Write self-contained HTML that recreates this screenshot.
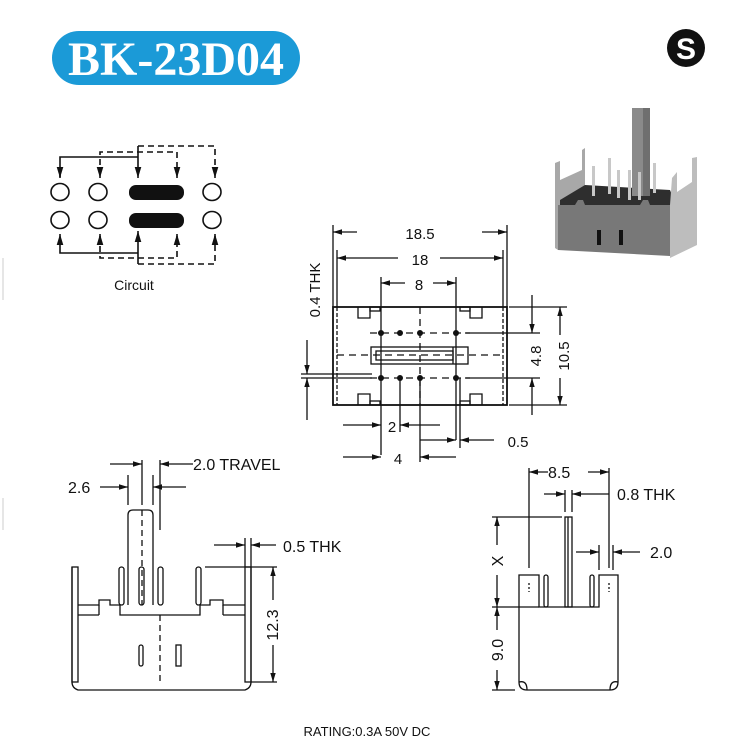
<!DOCTYPE html>
<html><head><meta charset="utf-8"><style>
html,body{margin:0;padding:0;background:#fff;}
svg{display:block;}
text{font-family:"Liberation Sans",Arial,sans-serif;fill:#111;}
</style></head><body>
<svg width="735" height="744" viewBox="0 0 735 744" xmlns="http://www.w3.org/2000/svg">
<defs>
<marker id="a" viewBox="0 0 10 10" refX="10" refY="5" markerWidth="7" markerHeight="7" orient="auto-start-reverse"><path d="M0,2 L10,5 L0,8 z" fill="#111"/></marker>
</defs>
<!-- title -->
<rect x="52" y="31" width="248" height="54" rx="27" fill="#1b9ad7"/>
<text x="176" y="75" text-anchor="middle" style="font-family:'Liberation Serif',serif;font-weight:bold;font-size:48px;fill:#fff">BK-23D04</text>
<!-- S logo -->
<circle cx="686" cy="48" r="19" fill="#111"/>
<text x="686" y="59" text-anchor="middle" style="font-weight:bold;font-size:30px;fill:#fff">S</text>
<line x1="3" y1="258" x2="3" y2="300" stroke="#ccc"/>
<line x1="3" y1="498" x2="3" y2="530" stroke="#ccc"/>

<!-- circuit -->
<g stroke="#111" stroke-width="1.6" fill="none">
<ellipse cx="60" cy="192" rx="9" ry="8.5"/><ellipse cx="98" cy="192" rx="9" ry="8.5"/><ellipse cx="212" cy="192" rx="9" ry="8.5"/>
<ellipse cx="60" cy="220" rx="9" ry="8.5"/><ellipse cx="98" cy="220" rx="9" ry="8.5"/><ellipse cx="212" cy="220" rx="9" ry="8.5"/>
<polyline points="60,177 60,157 138,157"/>
<line x1="60" y1="173" x2="60" y2="178" marker-end="url(#a)"/>
<line x1="138" y1="146" x2="138" y2="178" marker-end="url(#a)"/>
<polyline points="60,237 60,253 138,253"/>
<line x1="60" y1="240" x2="60" y2="234" marker-end="url(#a)"/>
<line x1="138" y1="264" x2="138" y2="231" marker-end="url(#a)"/>
<g stroke-dasharray="6,4">
<polyline points="100,175 100,152 177,152 177,175"/>
<polyline points="138,146 215,146 215,175"/>
<polyline points="100,236 100,258 177,258 177,236"/>
<polyline points="138,264 215,264 215,236"/>
</g>
<line x1="100" y1="172" x2="100" y2="178" marker-end="url(#a)"/>
<line x1="177" y1="172" x2="177" y2="178" marker-end="url(#a)"/>
<line x1="215" y1="172" x2="215" y2="178" marker-end="url(#a)"/>
<line x1="100" y1="240" x2="100" y2="234" marker-end="url(#a)"/>
<line x1="177" y1="240" x2="177" y2="234" marker-end="url(#a)"/>
<line x1="215" y1="240" x2="215" y2="234" marker-end="url(#a)"/>
</g>
<rect x="129" y="185" width="55" height="15" rx="7" fill="#111"/>
<rect x="129" y="213" width="55" height="15" rx="7" fill="#111"/>
<text x="134" y="290" text-anchor="middle" font-size="14">Circuit</text>

<!-- photo -->
<g>
<polygon points="555,163 560,161 560,180 582,170 582,150 585,148 585,205 558,250 555,248" fill="#a8a8a8"/>
<polygon points="560,200 585,185 670,190 676,205 560,205" fill="#2e2e2e"/>
<rect x="632" y="108" width="18" height="88" fill="#8a8a8a"/>
<rect x="643" y="108" width="7" height="88" fill="#6f6f6f"/>
<rect x="592" y="166" width="3" height="30" fill="#c8c8c8"/><rect x="608" y="158" width="3" height="36" fill="#c8c8c8"/>
<rect x="617" y="170" width="3" height="28" fill="#c8c8c8"/><rect x="628" y="170" width="3" height="30" fill="#c8c8c8"/>
<rect x="638" y="172" width="3" height="28" fill="#c8c8c8"/><rect x="653" y="163" width="3" height="30" fill="#c8c8c8"/>
<polygon points="558,205 575,205 578,200 583,200 585,205 640,205 643,200 648,200 650,205 670,205 670,256 558,250" fill="#787878"/>
<polygon points="670,205 672,178 677,172 677,192 692,182 692,158 697,157 697,245 670,258" fill="#bdbdbd"/>
<rect x="597" y="230" width="4" height="15" fill="#111"/><rect x="619" y="230" width="4" height="15" fill="#111"/>
</g>

<!-- top view -->
<g stroke="#111" stroke-width="1.3" fill="none">
<rect x="333" y="307" width="174" height="98" stroke-width="1.8"/>
<line x1="337" y1="307" x2="337" y2="405" stroke-dasharray="4,2"/>
<line x1="503" y1="307" x2="503" y2="405" stroke-dasharray="4,2"/>
<line x1="333" y1="225" x2="333" y2="307"/><line x1="507" y1="225" x2="507" y2="307"/>
<line x1="337" y1="250" x2="337" y2="307"/><line x1="503" y1="250" x2="503" y2="307"/>
<line x1="381" y1="277" x2="381" y2="455"/><line x1="456" y1="277" x2="456" y2="440"/>
<line x1="357" y1="232" x2="333" y2="232" marker-end="url(#a)"/><line x1="482" y1="232" x2="507" y2="232" marker-end="url(#a)"/>
<line x1="398" y1="258" x2="337" y2="258" marker-end="url(#a)"/><line x1="440" y1="258" x2="503" y2="258" marker-end="url(#a)"/>
<line x1="405" y1="283" x2="381" y2="283" marker-end="url(#a)"/><line x1="433" y1="283" x2="456" y2="283" marker-end="url(#a)"/>
<g stroke-dasharray="7,5">
<line x1="337" y1="355" x2="503" y2="355"/>
<line x1="420" y1="307" x2="420" y2="405"/>
<line x1="370" y1="333" x2="470" y2="333"/>
<line x1="370" y1="378" x2="470" y2="378"/>
</g>
<rect x="371" y="347" width="97" height="17"/>
<rect x="376" y="351" width="77" height="9"/>
<line x1="453" y1="347" x2="453" y2="364"/>
<polyline points="358,307 358,318 370,318 370,307"/><rect x="370" y="307" width="10" height="4"/>
<polyline points="470,307 470,318 482,318 482,307"/><rect x="460" y="307" width="10" height="4"/>
<polyline points="358,405 358,394 370,394 370,405"/><rect x="370" y="401" width="10" height="4"/>
<polyline points="470,405 470,394 482,394 482,405"/><rect x="460" y="401" width="10" height="4"/>
<line x1="509" y1="307" x2="567" y2="307"/><line x1="509" y1="405" x2="567" y2="405"/>
<line x1="465" y1="333" x2="540" y2="333"/><line x1="465" y1="378" x2="540" y2="378"/>
<line x1="532" y1="295" x2="532" y2="333" marker-end="url(#a)"/><line x1="532" y1="415" x2="532" y2="378" marker-end="url(#a)"/>
<line x1="560" y1="335" x2="560" y2="307" marker-end="url(#a)"/><line x1="560" y1="378" x2="560" y2="405" marker-end="url(#a)"/>
<line x1="307" y1="340" x2="307" y2="374" marker-end="url(#a)"/><line x1="307" y1="420" x2="307" y2="378" marker-end="url(#a)"/>
<line x1="301" y1="374" x2="372" y2="374"/><line x1="301" y1="378" x2="372" y2="378"/>
<line x1="400" y1="378" x2="400" y2="432"/><line x1="420" y1="378" x2="420" y2="462"/><line x1="460" y1="378" x2="460" y2="448"/>
<line x1="343" y1="425" x2="381" y2="425" marker-end="url(#a)"/><line x1="440" y1="425" x2="400" y2="425" marker-end="url(#a)"/>
<line x1="420" y1="440" x2="456" y2="440" marker-end="url(#a)"/><line x1="494" y1="440" x2="460" y2="440" marker-end="url(#a)"/>
<line x1="343" y1="457" x2="381" y2="457" marker-end="url(#a)"/><line x1="456" y1="457" x2="420" y2="457" marker-end="url(#a)"/>
</g>
<g fill="#111"><circle cx="381" cy="333" r="3"/><circle cx="400" cy="333" r="3"/><circle cx="420" cy="333" r="3"/><circle cx="456" cy="333" r="3"/>
<circle cx="381" cy="378" r="3"/><circle cx="400" cy="378" r="3"/><circle cx="420" cy="378" r="3"/><circle cx="456" cy="378" r="3"/></g>
<text x="420" y="239" text-anchor="middle" font-size="15">18.5</text>
<text x="420" y="265" text-anchor="middle" font-size="15">18</text>
<text x="419" y="290" text-anchor="middle" font-size="15">8</text>
<text transform="translate(320,290) rotate(-90)" text-anchor="middle" font-size="15">0.4 THK</text>
<text transform="translate(541,356) rotate(-90)" text-anchor="middle" font-size="15">4.8</text>
<text transform="translate(569,356) rotate(-90)" text-anchor="middle" font-size="15">10.5</text>
<text x="392" y="432" text-anchor="middle" font-size="15">2</text>
<text x="518" y="447" text-anchor="middle" font-size="15">0.5</text>
<text x="398" y="464" text-anchor="middle" font-size="15">4</text>

<!-- side view -->
<g stroke="#111" stroke-width="1.3" fill="none">
<path d="M72,567 L72,682 Q72,688 78,690 L245,690 Q251,688 251,682 L251,567"/>
<rect x="72" y="567" width="6" height="115"/><rect x="245" y="567" width="6" height="115"/>
<polyline points="78,605 99,605 99,600 110,600 110,605 120,605 120,615 200,615 200,605 210,605 210,600 223,600 223,605 245,605"/>
<line x1="78" y1="615" x2="99" y2="615"/><line x1="99" y1="605" x2="99" y2="615"/>
<line x1="223" y1="605" x2="223" y2="615"/><line x1="223" y1="615" x2="245" y2="615"/>
<path d="M128,605 L128,515 Q128,510 133,510 L148,510 Q153,510 153,515 L153,605"/>
<line x1="142" y1="510" x2="142" y2="605" stroke-dasharray="6,4"/>
<line x1="160" y1="615" x2="160" y2="682" stroke-dasharray="6,4"/>
<rect x="119" y="567" width="5" height="38" rx="2.5"/><rect x="139" y="567" width="5" height="38" rx="2.5"/>
<rect x="158" y="567" width="5" height="38" rx="2.5"/><rect x="196" y="567" width="5" height="38" rx="2.5"/>
<rect x="139" y="645" width="4" height="21" rx="2"/><rect x="176" y="645" width="5" height="21"/>
<line x1="128" y1="475" x2="128" y2="505"/><line x1="142" y1="460" x2="142" y2="505"/>
<line x1="153" y1="475" x2="153" y2="505"/><line x1="160" y1="460" x2="160" y2="530"/>
<line x1="110" y1="464" x2="142" y2="464" marker-end="url(#a)"/><line x1="193" y1="464" x2="160" y2="464" marker-end="url(#a)"/>
<line x1="100" y1="487" x2="128" y2="487" marker-end="url(#a)"/><line x1="186" y1="487" x2="153" y2="487" marker-end="url(#a)"/>
<line x1="245" y1="538" x2="245" y2="567"/><line x1="251" y1="538" x2="251" y2="567"/>
<line x1="214" y1="545" x2="245" y2="545" marker-end="url(#a)"/><line x1="276" y1="545" x2="251" y2="545" marker-end="url(#a)"/>
<line x1="205" y1="567" x2="277" y2="567"/><line x1="251" y1="682" x2="277" y2="682"/>
<line x1="273" y1="600" x2="273" y2="567" marker-end="url(#a)"/><line x1="273" y1="645" x2="273" y2="682" marker-end="url(#a)"/>
</g>
<text x="193" y="470" font-size="16">2.0 TRAVEL</text>
<text x="68" y="493" font-size="16">2.6</text>
<text x="283" y="552" font-size="16">0.5 THK</text>
<text transform="translate(278,625) rotate(-90)" text-anchor="middle" font-size="16">12.3</text>

<!-- front view -->
<g stroke="#111" stroke-width="1.3" fill="none">
<path d="M519,575 L519,682 Q519,690 527,690 L610,690 Q618,690 618,682 L618,575 L599,575 L599,607 L539,607 L539,575 Z"/>
<path d="M519,682 Q527,680 527,690"/><path d="M618,682 Q610,680 610,690"/>
<rect x="565" y="517" width="7" height="90"/>
<line x1="568" y1="517" x2="568" y2="607"/>
<rect x="544" y="575" width="4" height="32" rx="2"/><rect x="590" y="575" width="4" height="32" rx="2"/>
<line x1="529" y1="468" x2="529" y2="568"/><line x1="609" y1="468" x2="609" y2="568"/>
<line x1="529" y1="583" x2="529" y2="592" stroke-dasharray="2,2"/><line x1="609" y1="583" x2="609" y2="592" stroke-dasharray="2,2"/>
<line x1="548" y1="472" x2="529" y2="472" marker-end="url(#a)"/><line x1="588" y1="472" x2="609" y2="472" marker-end="url(#a)"/>
<line x1="565" y1="490" x2="565" y2="512"/><line x1="572" y1="490" x2="572" y2="512"/>
<line x1="544" y1="494" x2="565" y2="494" marker-end="url(#a)"/><line x1="609" y1="494" x2="572" y2="494" marker-end="url(#a)"/>
<line x1="599" y1="545" x2="599" y2="570"/><line x1="613" y1="545" x2="613" y2="570"/>
<line x1="576" y1="552" x2="599" y2="552" marker-end="url(#a)"/><line x1="640" y1="552" x2="613" y2="552" marker-end="url(#a)"/>
<line x1="492" y1="517" x2="562" y2="517"/><line x1="492" y1="607" x2="539" y2="607"/><line x1="492" y1="690" x2="515" y2="690"/>
<line x1="497" y1="545" x2="497" y2="517" marker-end="url(#a)"/><line x1="497" y1="575" x2="497" y2="607" marker-end="url(#a)"/>
<line x1="497" y1="630" x2="497" y2="607" marker-end="url(#a)"/><line x1="497" y1="670" x2="497" y2="690" marker-end="url(#a)"/>
</g>
<text x="548" y="478" font-size="16">8.5</text>
<text x="617" y="500" font-size="16">0.8 THK</text>
<text x="650" y="558" font-size="16">2.0</text>
<text transform="translate(503,561) rotate(-90)" text-anchor="middle" font-size="16">X</text>
<text transform="translate(503,650) rotate(-90)" text-anchor="middle" font-size="16">9.0</text>

<text x="367" y="736" text-anchor="middle" font-size="13">RATING:0.3A 50V DC</text>
</svg>
</body></html>
